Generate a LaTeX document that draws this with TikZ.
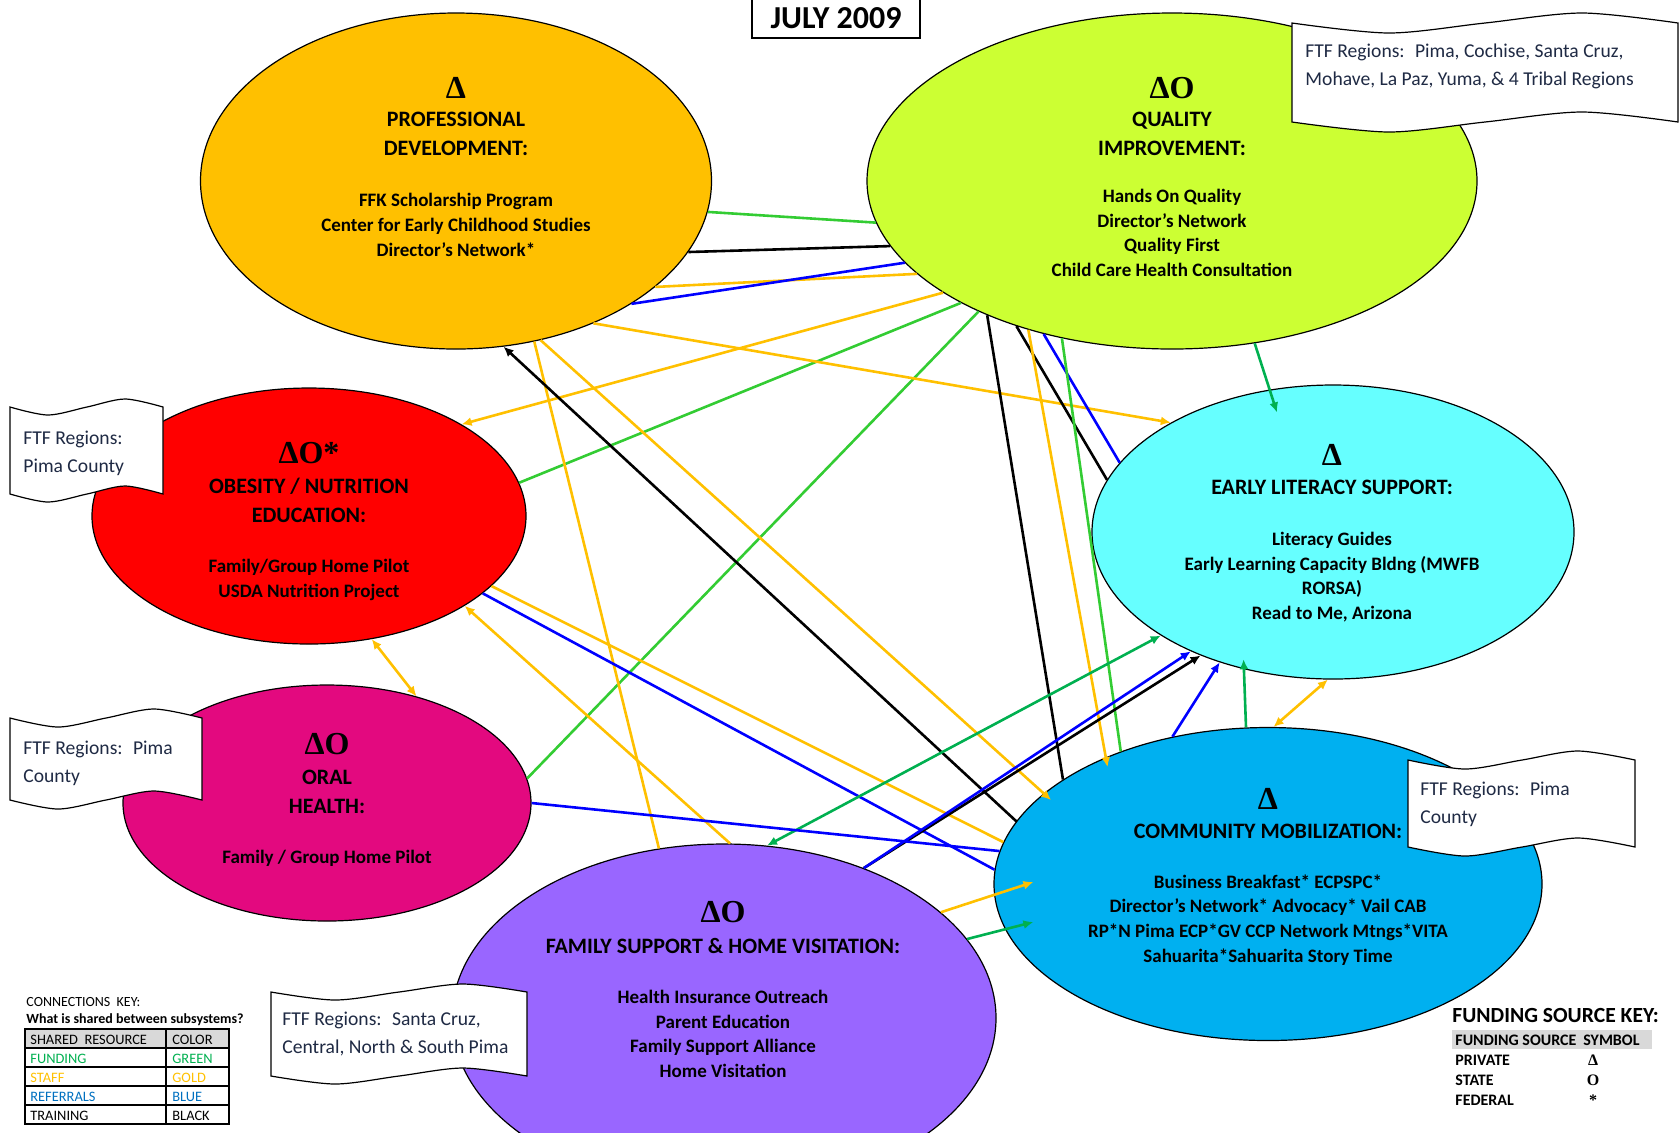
\documentclass[tikz,border=0pt]{standalone}
\usepackage{fontspec}
\setmainfont{Carlito}
\newfontfamily\deltafont{Liberation Serif}
\usetikzlibrary{shapes.geometric,arrows.meta}
\definecolor{pdgold}{HTML}{FFC000}
\definecolor{qigreen}{HTML}{CCFF33}
\definecolor{obred}{HTML}{FF0000}
\definecolor{ohpink}{HTML}{E3097F}
\definecolor{fspurple}{HTML}{9966FF}
\definecolor{elcyan}{HTML}{66FFFF}
\definecolor{cmblue}{HTML}{00B0F0}
\definecolor{gold}{HTML}{FFC000}
\definecolor{fundgreen}{HTML}{00B050}
\definecolor{limegreen}{HTML}{33CC33}
\definecolor{refblue}{HTML}{0000FF}
\definecolor{keyblue}{HTML}{0070C0}
\definecolor{ftfink}{HTML}{1F2A44}
\definecolor{keygray}{HTML}{D9D9D9}
\begin{document}
\begin{tikzpicture}[x=0.5pt,y=-0.5pt,>={Latex[length=5pt,width=4.5pt]},
  subsys/.style={ellipse, draw=black, line width=0.6pt, inner sep=0pt},
  symtext/.style={inner sep=0pt, font=\deltafont\bfseries\fontsize{16}{16}\selectfont},
  titletext/.style={inner sep=0pt, align=center, font=\bfseries\fontsize{11}{14.5}\selectfont},
  bodytext/.style={inner sep=0pt, align=center, font=\bfseries\fontsize{9.5}{12.35}\selectfont},
  ftfwave/.style={fill=white, draw=black, line width=0.6pt},
  ftftext/.style={inner sep=0pt, anchor=west, align=left, text=ftfink, font=\fontsize{9.8}{14}\selectfont},
  link/.style={line width=1.3pt},
  onearrow/.style={->},
  twoarrow/.style={<->},
  poke/.style={shorten >=-5pt},
  keytext/.style={inner sep=0pt, anchor=base west, font=\fontsize{7.2}{9}\selectfont}]
	\useasboundingbox (0,0) rectangle (1679,1132);

	%subsystems
	\node[subsys, fill=pdgold, minimum width=255.5pt, minimum height=168pt] (pd) at (456,181) {};
	\node[subsys, fill=qigreen, minimum width=305pt, minimum height=168pt] (qi) at (1172,181) {};
	\node[subsys, fill=obred, minimum width=217pt, minimum height=128pt] (ob) at (309,516) {};
	\node[subsys, fill=ohpink, minimum width=204pt, minimum height=118pt] (oh) at (327,803) {};
	\node[subsys, fill=fspurple, minimum width=272pt, minimum height=174pt] (fs) at (724,1018) {};
	\node[subsys, fill=elcyan, minimum width=241pt, minimum height=147pt] (el) at (1333,532) {};
	\node[subsys, fill=cmblue, minimum width=274pt, minimum height=156.5pt] (cm) at (1268,884) {};

	%connections
	\draw[link, limegreen] (pd.-7) -- (qi.188.6); %PD-QI funding
	\draw[link, black] (pd.-17.5) -- (qi.193.5); %PD-QI training
	\draw[link, gold] (pd.-28.3) -- (qi.200.6); %PD-QI staff
	\draw[link, refblue] (pd.-35.2) -- (qi.197.1); %PD-QI referrals
	\draw[link, gold, onearrow] (qi.206) -- (ob.31.1); %QI-OB
	\draw[link, limegreen] (qi.210.8) -- (ob.9.1); %QI-OB
	\draw[link, limegreen] (qi.214.5) -- (oh.7.7); %QI-OH
	\draw[link, gold, onearrow] (pd.-46.8) -- (el.146); %PD-EL
	\draw[link, gold, onearrow, poke] (pd.-62.4) -- (cm.158.9); %PD-CM
	\draw[link, gold] (pd.-64) -- (fs.111.6); %PD-FS
	\draw[link, black, onearrow] (cm.166.8) -- (pd.-74.8); %CM-PD
	\draw[link, black] (qi.216.1) -- (cm.153.7); %QI-CM
	\draw[link, black] (qi.223.5) -- (el.167.5); %QI-EL
	\draw[link, gold, onearrow, poke] (qi.226.4) -- (cm.142.7); %QI-CM
	\draw[link, refblue] (qi.230.5) -- (el.162.1); %QI-EL
	\draw[link, limegreen] (qi.235.2) -- (cm.138.7); %QI-CM
	\draw[link, fundgreen, onearrow, shorten >=-12pt] (qi.-63.2) -- (el.114.9); %QI-EL
	\draw[link, gold, twoarrow] (ob.-63.4) -- (oh.50.8); %OB-OH
	\draw[link, refblue] (ob.-24) -- (cm.177); %OB-CM
	\draw[link, gold] (ob.-21.1) -- (cm.171.7); %OB-CM
	\draw[link, gold, onearrow] (fs.88.7) -- (ob.-30.9); %FS-OB
	\draw[link, black, onearrow] (fs.47) -- (el.223.2); %FS-EL
	\draw[link, refblue, onearrow] (fs.47) -- (el.220.8); %FS-EL
	\draw[link, fundgreen, twoarrow] (fs.76.6) -- (el.211.3); %FS-EL
	\draw[link, refblue, onearrow] (cm.123.2) -- (el.229); %CM-EL
	\draw[link, fundgreen, onearrow, poke] (cm.98.3) -- (el.237); %CM-EL
	\draw[link, gold, twoarrow] (cm.88.5) -- (el.268.8); %CM-EL
	\draw[link, gold, onearrow] (fs.26.5) -- ([xshift=20pt,yshift=1pt]cm.west); %FS-CM
	\draw[link, fundgreen, onearrow] (fs.18.2) -- ([xshift=20pt,yshift=-19pt]cm.west); %FS-CM
	\draw[link, refblue] (oh.0) -- (cm.173.8); %OH-CM

	%FTF region banners
	\filldraw[ftfwave] plot[smooth] coordinates {(1292,23) (1389,33) (1485,23) (1582,13) (1678,23)}
	  -- plot[smooth] coordinates {(1678,122) (1582,112) (1485,122) (1389,132) (1292,122)} -- cycle; %QI
	\filldraw[ftfwave] plot[smooth] coordinates {(10,407) (48,415) (87,407) (125,399) (163,407)}
	  -- plot[smooth] coordinates {(163,494) (125,486) (87,494) (48,502) (10,494)} -- cycle; %OB
	\filldraw[ftfwave] plot[smooth] coordinates {(10,718) (58,727) (106,718) (154,709) (202,718)}
	  -- plot[smooth] coordinates {(202,800) (154,791) (106,800) (58,809) (10,800)} -- cycle; %OH
	\filldraw[ftfwave] plot[smooth] coordinates {(271,992) (335,1000) (399,992) (463,984) (527,992)}
	  -- plot[smooth] coordinates {(527,1076) (463,1068) (399,1076) (335,1084) (271,1076)} -- cycle; %FS
	\filldraw[ftfwave] plot[smooth] coordinates {(1408,760) (1465,769) (1522,760) (1578,751) (1635,760)}
	  -- plot[smooth] coordinates {(1635,847) (1578,838) (1522,847) (1465,856) (1408,847)} -- cycle; %CM

	\node[ftftext] (qiftf) at (1305,66) {FTF Regions:~ Pima, Cochise, Santa Cruz,\\Mohave, La Paz, Yuma, \& 4 Tribal Regions};
	\node[ftftext] (obftf) at (23,453) {FTF Regions:\\Pima County};
	\node[ftftext] (ohftf) at (23,763) {FTF Regions:~ Pima\\County};
	\node[ftftext] (fsftf) at (282,1034) {FTF Regions:~ Santa Cruz,\\Central, North \& South Pima};
	\node[ftftext] (cmftf) at (1420,804) {FTF Regions:~ Pima\\County};

	%labels
	\node[symtext] (pdsym) at (456,88) {Δ};
	\node[titletext] (pdtitle) at (456,134) {PROFESSIONAL\\DEVELOPMENT:};
	\node[bodytext] (pdbody) at (456,225) {FFK Scholarship Program\\Center for Early Childhood Studies\\Director’s Network*};

	\node[symtext] (qisym) at (1172,88) {ΔO};
	\node[titletext] (qititle) at (1172,134) {QUALITY\\IMPROVEMENT:};
	\node[bodytext] (qibody) at (1172,233) {Hands On Quality\\Director’s Network\\Quality First\\Child Care Health Consultation};

	\node[symtext] (obsym) at (309,453) {ΔO*};
	\node[titletext] (obtitle) at (309,500) {OBESITY / NUTRITION\\EDUCATION:};
	\node[bodytext] (obbody) at (309,580) {Family/Group Home Pilot\\USDA Nutrition Project};

	\node[symtext] (ohsym) at (327,744) {ΔO};
	\node[titletext] (ohtitle) at (327,792) {ORAL\\HEALTH:};
	\node[bodytext] (ohbody) at (327,858) {Family / Group Home Pilot};

	\node[symtext] (fssym) at (723,912) {ΔO};
	\node[titletext] (fstitle) at (723,946) {FAMILY SUPPORT \& HOME VISITATION:};
	\node[bodytext] (fsbody) at (723,1034) {Health Insurance Outreach\\Parent Education\\Family Support Alliance\\Home Visitation};

	\node[symtext] (elsym) at (1332,455) {Δ};
	\node[titletext] (eltitle) at (1332,487) {EARLY LITERACY SUPPORT:};
	\node[bodytext] (elbody) at (1332,577) {Literacy Guides\\Early Learning Capacity Bldng (MWFB\\RORSA)\\Read to Me, Arizona};

	\node[symtext] (cmsym) at (1268,799) {Δ};
	\node[titletext] (cmtitle) at (1268,831) {COMMUNITY MOBILIZATION:};
	\node[bodytext] (cmbody) at (1268,920) {Business Breakfast* ECPSPC*\\Director’s Network* Advocacy* Vail CAB\\RP*N Pima ECP*GV CCP Network Mtngs*VITA\\Sahuarita*Sahuarita Story Time};

	%date
	\node[draw, line width=0.6pt, minimum width=84pt, minimum height=20pt, inner sep=0pt,
	  font=\bfseries\fontsize{16}{16}\selectfont] (month) at (836,18) {JULY 2009};

	%connections key
	\node[keytext, font=\fontsize{7}{8}\selectfont] (connkey) at (26,1006) {CONNECTIONS~ KEY:};
	\node[keytext, font=\bfseries\fontsize{7}{8}\selectfont] (connq) at (26,1023) {What is shared between subsystems?};
	\fill[keygray] (25,1029) rectangle (229,1048);
	\draw[line width=0.6pt] (25,1029) rectangle (229,1124) (166,1029) -- (166,1124);
	\foreach \y in {1048,1067,1086,1105}
	  \draw[line width=0.6pt] (25,\y) -- (229,\y);
	\node[keytext] (reshead) at (30,1044) {SHARED~ RESOURCE};
	\node[keytext] (colhead) at (172,1044) {COLOR};
	\foreach \res/\col/\clr [count=\i] in {FUNDING/GREEN/fundgreen, STAFF/GOLD/gold, REFERRALS/BLUE/keyblue, TRAINING/BLACK/black}{
	  \node[keytext, text=\clr] (res\i) at (30,1044+19*\i) {\res};
	  \node[keytext, text=\clr] (col\i) at (172,1044+19*\i) {\col};
	}

	%funding source key
	\node[keytext, font=\bfseries\fontsize{10.8}{12}\selectfont] (fundkey) at (1452,1022) {FUNDING SOURCE KEY:};
	\fill[keygray] (1452,1030) rectangle (1652,1049);
	\node[keytext, font=\bfseries\fontsize{8}{9}\selectfont] (srchead) at (1455,1045) {FUNDING SOURCE};
	\node[keytext, font=\bfseries\fontsize{8}{9}\selectfont] (symhead) at (1583,1045) {SYMBOL};
	\foreach \src/\sym [count=\i] in {PRIVATE/Δ, STATE/O, FEDERAL/*}{
	  \node[keytext, font=\bfseries\fontsize{8}{9}\selectfont] (src\i) at (1455,1045+20*\i) {\src};
	  \node[inner sep=0pt, anchor=base, font=\deltafont\bfseries\fontsize{8}{9}\selectfont] (sym\i) at (1593,1045+20*\i) {\sym};
	}
\end{tikzpicture}
\end{document}
